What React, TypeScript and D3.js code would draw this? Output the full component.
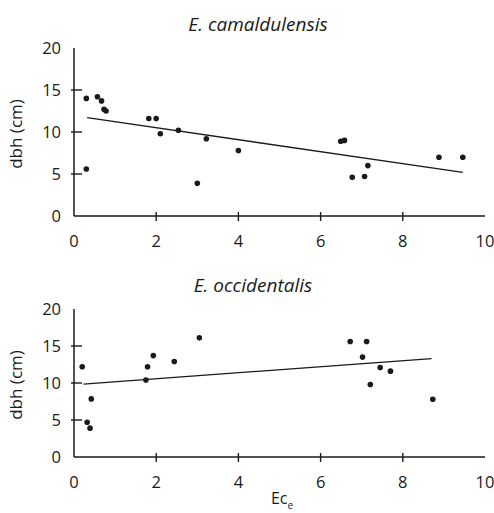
import React from "react";
import * as d3 from "d3";

// E. camaldulensis: Ec (x) vs dbh in cm (y)
const camEc = [0.3, 0.3, 0.57, 0.67, 0.73, 0.78, 1.82, 2.0, 2.1, 2.54, 3.0, 3.22, 4.0, 6.49, 6.58, 6.77, 7.07, 7.15, 8.88, 9.46];
const camDbh = [14.0, 5.6, 14.2, 13.7, 12.7, 12.5, 11.6, 11.6, 9.8, 10.2, 3.9, 9.2, 7.8, 8.9, 9.0, 4.6, 4.7, 6.0, 7.0, 7.0];
const camFitEc = [0.32, 9.46];
const camFitDbh = [11.7, 5.2];

// E. occidentalis
const occEc = [0.2, 0.32, 0.39, 0.42, 1.75, 1.79, 1.93, 2.44, 3.05, 6.72, 7.02, 7.12, 7.21, 7.45, 7.7, 8.73];
const occDbh = [12.2, 4.7, 3.9, 7.85, 10.4, 12.2, 13.7, 12.9, 16.1, 15.6, 13.5, 15.6, 9.8, 12.1, 11.6, 7.8];
const occFitEc = [0.23, 8.7];
const occFitDbh = [9.85, 13.3];

const xTicks = [0, 2, 4, 6, 8, 10];
const yTicks = [0, 5, 10, 15, 20];

const font = "'Open Sans', 'DejaVu Sans', sans-serif";
const ink = "#1a1a1a";

type PanelProps = {
  title: string;
  xs: number[];
  ys: number[];
  fitX: number[];
  fitY: number[];
  top: number;
  bottom: number;
  titleY: number;
  titleX: number;
};

function Panel({ title, xs, ys, fitX, fitY, top, bottom, titleY, titleX }: PanelProps) {
  const x = d3.scaleLinear().domain([0, 10]).range([74, 485]);
  const y = d3.scaleLinear().domain([0, 20]).range([bottom, top]);
  const line = d3
    .line<number>()
    .x((d) => x(d))
    .y((_, i) => y(fitY[i]));

  return (
    <g>
      <text x={titleX} y={titleY} textAnchor="middle" fontStyle="italic" fontSize={19} fontFamily={font} fill={ink}>
        {title}
      </text>
      {/* axes */}
      <line x1={x(0)} x2={x(0)} y1={y(0)} y2={y(20)} stroke={ink} strokeWidth={1.5} />
      <line x1={x(0)} x2={x(10)} y1={y(0)} y2={y(0)} stroke={ink} strokeWidth={1.5} />
      {yTicks.map((t) => (
        <g key={"y" + t}>
          {t > 0 && t < 20 && <line x1={x(0) - 3} x2={x(0) + 8} y1={y(t)} y2={y(t)} stroke={ink} strokeWidth={1.4} />}
          <text x={61} y={y(t) + 6} textAnchor="end" fontSize={16.5} fontFamily={font} fill={ink}>
            {t}
          </text>
        </g>
      ))}
      {xTicks.map((t) => (
        <g key={"x" + t}>
          {t > 0 && t < 10 && <line x1={x(t)} x2={x(t)} y1={y(0) - 4} y2={y(0) + 5} stroke={ink} strokeWidth={1.4} />}
          <text x={x(t)} y={y(0) + 31} textAnchor="middle" fontSize={16.5} fontFamily={font} fill={ink}>
            {t}
          </text>
        </g>
      ))}
      <text
        transform={`translate(22,${(y(0) + y(20)) / 2 + 2}) rotate(-90)`}
        textAnchor="middle"
        fontSize={17}
        fontFamily={font}
        fill={ink}
      >
        dbh (cm)
      </text>
      <path d={line(fitX) || ""} fill="none" stroke={ink} strokeWidth={1.3} />
      {xs.map((d, i) => (
        <circle key={i} cx={x(d)} cy={y(ys[i])} r={2.8} fill={ink} />
      ))}
    </g>
  );
}

export default function App() {
  return (
    <svg width={494} height={513} style={{ position: "absolute", left: 0, top: 0, background: "#fff" }}>
      <rect width={494} height={513} fill="#fff" />
      <Panel title="E. camaldulensis" xs={camEc} ys={camDbh} fitX={camFitEc} fitY={camFitDbh} top={48} bottom={216} titleY={31} titleX={258} />
      <Panel title="E. occidentalis" xs={occEc} ys={occDbh} fitX={occFitEc} fitY={occFitDbh} top={309} bottom={457} titleY={292} titleX={253} />
      <text x={282} y={504} textAnchor="middle" fontSize={16} fontFamily={font} fill={ink}>
        Ec
        <tspan fontSize={10} dy={5}>e</tspan>
      </text>
    </svg>
  );
}
